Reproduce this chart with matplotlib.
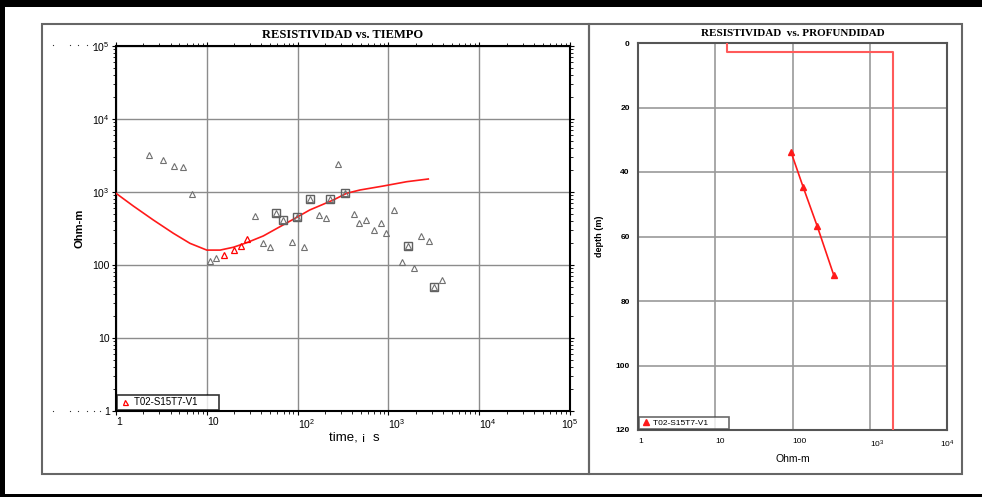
import matplotlib.pyplot as plt
from matplotlib.lines import Line2D
from matplotlib.patches import Rectangle
from matplotlib.ticker import FixedLocator, LogLocator, NullFormatter

plt.rcParams['font.family'] = ['Liberation Sans', 'DejaVu Sans']
plt.rcParams['mathtext.fontset'] = 'custom'
plt.rcParams['mathtext.rm'] = 'Liberation Sans'
plt.rcParams['mathtext.it'] = 'Liberation Sans:italic'

# Observed apparent resistivity vs time (grey)
obs_t = [2.31, 3.32, 4.31, 5.41, 6.87, 10.8, 12.7, 34, 41.6, 50, 57.4, 68.5,
         86, 97.6, 117.6, 136, 174, 207, 227, 281, 335, 414, 473, 571, 700,
         834, 946, 1141, 1413, 1644, 1914, 2287, 2826, 3206, 3857]
obs_rho = [3213, 2743, 2270, 2180, 930, 113, 125, 469, 198, 175, 521, 413,
           205, 449, 175, 802, 484, 440, 802, 2419, 960, 493, 372, 413, 299,
           372, 277, 567, 109, 184, 91, 250, 213, 49.5, 61.7]

# Points used in the inversion (red)
fit_t = [15.6, 19.7, 23.8, 27.5]
fit_rho = [138, 159, 180, 229]

# Flagged points (boxed)
box_t = [57.4, 68.5, 97.6, 136, 227, 335, 1644, 3206]
box_rho = [521, 413, 449, 802, 802, 960, 184, 49.5]

# Model response curve
model_t = [1, 1.55, 2.58, 4.28, 6.53, 10, 14, 19.6, 27.5, 41.9, 64, 89.7,
           136, 247, 347, 486, 879, 1591, 2750]
model_rho = [960, 643, 413, 272, 198, 160, 160, 175, 202, 250, 335, 423,
             567, 777, 960, 1065, 1208, 1384, 1507]

# Layered model (resistivity per layer, interface depths)
layer_rho = [14, 2010]
layer_tops = [0, 2.8]
max_depth = 120

# Resistivity vs depth transform
depth_rho = [96, 138, 209, 340]
depth_z = [33.9, 44.8, 56.8, 71.8]

series_name = "T02-S15T7-V1"

W, H = 982, 497
fig = plt.figure(figsize=(W / 100, H / 100), dpi=100)


def fx(px):
    return px / W


def fy(py):
    return 1 - py / H


def frame(x0, y0, x1, y1, **kw):
    fig.patches.append(Rectangle((fx(x0), fy(y1)), fx(x1) - fx(x0),
                                 fy(y0) - fy(y1), transform=fig.transFigure,
                                 **kw))


# outer black border
frame(0, 0, W, 7, color='black', lw=0)
frame(0, 0, 5, H, color='black', lw=0)
frame(0, 494, W, H, color='black', lw=0)

# panel boxes
frame(42, 24, 589, 474, fill=False, ec='#666666', lw=1.5)
frame(589, 24, 962, 474, fill=False, ec='#666666', lw=1.5)

title_font = dict(family='Liberation Serif', weight='bold')

# ---- Resistivity vs time ----
ax1 = fig.add_axes([fx(116), fy(411), fx(570) - fx(116), fy(46) - fy(411)])
ax1.set_xscale('log')
ax1.set_yscale('log')
ax1.set_xlim(1, 1e5)
ax1.set_ylim(1, 1e5)
ax1.grid(True, which='major', color='#8c8c8c', lw=1.0)
ax1.set_axisbelow(True)

ax1.plot(model_t, model_rho, color='#ff1a1a', lw=1.2, zorder=3)
ax1.plot(obs_t, obs_rho, ls='none', marker='^', ms=4.5, mfc='none',
         mec='#707070', mew=0.8, zorder=4)
ax1.plot(box_t, box_rho, ls='none', marker='s', ms=5.8, mfc='none',
         mec='#606060', mew=1.0, zorder=4)
ax1.plot(fit_t, fit_rho, ls='none', marker='^', ms=4.5, mfc='none',
         mec='#ff0000', mew=0.9, zorder=5, label=series_name + "       ")

decades = [1, 10, 100, 1e3, 1e4, 1e5]
ax1.xaxis.set_major_locator(FixedLocator(decades))
ax1.yaxis.set_major_locator(FixedLocator(decades))
ax1.xaxis.set_minor_locator(LogLocator(base=10, subs=range(2, 10), numticks=20))
ax1.yaxis.set_minor_locator(LogLocator(base=10, subs=range(2, 10), numticks=20))
ax1.xaxis.set_minor_formatter(NullFormatter())
ax1.yaxis.set_minor_formatter(NullFormatter())
ax1.set_xticklabels(['1', '10', '$10^{2}$', '$10^{3}$', '$10^{4}$', '$10^{5}$'])
ax1.set_yticklabels(['1', '10', '100', '$10^{3}$', '$10^{4}$', '$10^{5}$'])
for lab in ax1.get_xticklabels()[:-1]:
    lab.set_ha('left')
ax1.tick_params(which='both', direction='out', top=True, right=True,
                labelsize=7.5, pad=1.5)
ax1.tick_params(which='major', length=3, width=0.8)
ax1.tick_params(which='minor', length=2, width=0.6)
for sp in ax1.spines.values():
    sp.set_linewidth(1.5)
    sp.set_color('black')

ax1.set_title("RESISTIVIDAD vs. TIEMPO", fontsize=9, pad=6, **title_font)
ax1.set_ylabel("Ohm-m", fontsize=8, weight='bold')
ax1.yaxis.set_label_coords(-0.07, 0.5)
ax1.set_xlabel("time, \u00a1  s", fontsize=9.5)
ax1.xaxis.set_label_coords(0.525, -0.055)

leg1 = ax1.legend(loc='lower left', fontsize=7, frameon=True, fancybox=False,
                  edgecolor='black', handlelength=1.0, handletextpad=0.4,
                  borderpad=0.25, borderaxespad=0.15, markerscale=0.8)
leg1.get_frame().set_linewidth(1.2)

# stray minor tick marks left of the axis labels
for py, xs in [(45, [53, 70, 78, 87, 93]), (411, [53, 70, 78, 87, 94, 100])]:
    fig.add_artist(Line2D([fx(p) for p in xs], [fy(py)] * len(xs), ls='none',
                          marker='s', ms=0.8, mew=0, color='#333333',
                          transform=fig.transFigure))

# ---- Resistivity vs depth ----
ax2 = fig.add_axes([fx(638), fy(430), fx(947) - fx(638), fy(43) - fy(430)])
ax2.set_xscale('log')
ax2.set_xlim(1, 1e4)
ax2.set_ylim(max_depth, 0)
ax2.grid(True, which='major', color='#9a9a9a', lw=1.2)
ax2.set_axisbelow(True)

step_x, step_y = [], []
bottoms = layer_tops[1:] + [max_depth]
for rho, top, bot in zip(layer_rho, layer_tops, bottoms):
    step_x += [rho, rho]
    step_y += [top, bot]
ax2.plot(step_x, step_y, color='#ff5a5a', lw=1.5, zorder=3)
ax2.plot(depth_rho, depth_z, color='#ff1a1a', lw=1.2, marker='^', ms=4,
         mfc='#ff1a1a', mec='#ff1a1a', zorder=4, label=series_name + "        ")

ax2.xaxis.set_major_locator(FixedLocator([1, 10, 100, 1e3, 1e4]))
ax2.xaxis.set_minor_locator(FixedLocator([]))
ax2.set_xticklabels(['1', '10', '100', '$10^{3}$', '$10^{4}$'])
for lab in ax2.get_xticklabels()[:-1]:
    lab.set_ha('left')
ax2.set_yticks(range(0, max_depth + 1, 20))
ax2.tick_params(length=0, labelsize=6, pad=6)
for lab in ax2.get_yticklabels():
    lab.set_fontweight('bold')
for sp in ax2.spines.values():
    sp.set_linewidth(1.5)
    sp.set_color('#555555')

ax2.set_title("RESISTIVIDAD  vs. PROFUNDIDAD", fontsize=8, pad=5, **title_font)
ax2.set_ylabel("depth (m)", fontsize=6.5, weight='bold', labelpad=8)
ax2.set_xlabel("Ohm-m", fontsize=7.5, labelpad=3)

leg2 = ax2.legend(loc='lower left', fontsize=6, frameon=True, fancybox=False,
                  edgecolor='#444444', handlelength=1.0, handletextpad=0.4,
                  borderpad=0.25, borderaxespad=0.15)
leg2.get_frame().set_linewidth(1.2)
leg2.get_lines()[0].set_linestyle('none')

fig.savefig("out.png", dpi=100)
